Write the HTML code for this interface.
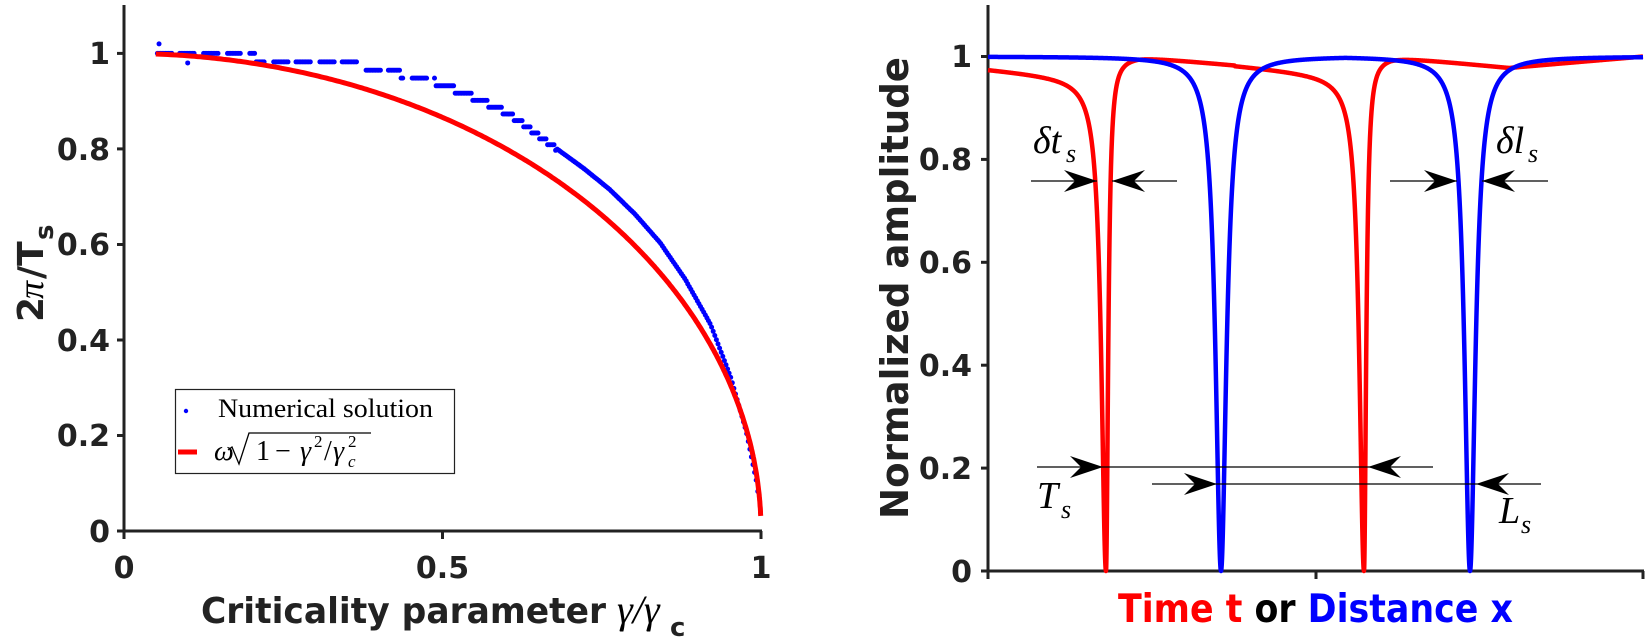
<!DOCTYPE html>
<html><head><meta charset="utf-8"><style>
html,body{margin:0;padding:0;background:#fff;}
svg{display:block;}
.tk{font-family:"DejaVu Sans",sans-serif;font-weight:bold;font-size:30px;fill:#222;}
.lb{font-family:"DejaVu Sans",sans-serif;font-weight:bold;fill:#222;}
.m{font-family:"Liberation Serif",serif;font-style:italic;fill:#000;}
</style></head><body>
<svg id="s" width="1649" height="643" viewBox="0 0 1649 643" xmlns="http://www.w3.org/2000/svg">
<g stroke="#222" stroke-width="3" fill="none">
<line x1="124" y1="5" x2="124" y2="532"/>
<line x1="123" y1="531" x2="762" y2="531"/>
<line x1="117" y1="53.4" x2="124" y2="53.4"/>
<line x1="117" y1="148.9" x2="124" y2="148.9"/>
<line x1="117" y1="244.5" x2="124" y2="244.5"/>
<line x1="117" y1="340" x2="124" y2="340"/>
<line x1="117" y1="435.5" x2="124" y2="435.5"/>
<line x1="117" y1="531" x2="124" y2="531"/>
<line x1="124" y1="531" x2="124" y2="539"/>
<line x1="442.5" y1="531" x2="442.5" y2="539"/>
<line x1="761" y1="531" x2="761" y2="539"/>
</g>
<g class="tk" text-anchor="end">
<text x="110" y="64">1</text>
<text x="110" y="160">0.8</text>
<text x="110" y="255">0.6</text>
<text x="110" y="351">0.4</text>
<text x="110" y="446">0.2</text>
<text x="110" y="542">0</text>
</g>
<g class="tk" text-anchor="middle">
<text x="124" y="578">0</text>
<text x="442.5" y="578">0.5</text>
<text x="761" y="578">1</text>
</g>
<text class="lb" font-size="36" x="201" y="623" textLength="405" lengthAdjust="spacingAndGlyphs">Criticality parameter</text>
<text class="m" font-size="40" x="617" y="623">γ/γ</text>
<text class="lb" font-size="26" x="670" y="636">c</text>
<g transform="translate(43,322) rotate(-90)">
<text class="lb" font-size="36" x="0" y="0">2</text>
<text class="m" font-size="36" x="23" y="0">π</text>
<text class="lb" font-size="36" x="43" y="0">/T</text>
<text class="lb" font-size="26" x="82" y="10">s</text>
</g>
<g id="lcurves"></g>
<rect x="175.5" y="389.5" width="279" height="84" fill="#fff" stroke="#222" stroke-width="1.2"/>
<circle cx="186" cy="411" r="2.2" fill="#00f"/>
<text x="218" y="417" font-family="Liberation Serif,serif" font-size="26" textLength="215" lengthAdjust="spacingAndGlyphs">Numerical solution</text>
<line x1="178" y1="452" x2="197" y2="452" stroke="#f00" stroke-width="5"/>
<text class="m" font-size="28" x="214" y="460">ω</text>
<path d="M228 450 L232 447 L239 464 L249 433 L371 433" stroke="#000" stroke-width="1.3" fill="none"/>
<text font-family="Liberation Serif,serif" font-size="28" x="256" y="460">1</text>
<text font-family="Liberation Serif,serif" font-size="28" x="275" y="460">−</text>
<text class="m" font-size="28" x="300" y="460">γ</text>
<text font-family="Liberation Serif,serif" font-size="17" x="314" y="447">2</text>
<text font-family="Liberation Serif,serif" font-size="28" x="324" y="460">/</text>
<text class="m" font-size="28" x="333" y="460">γ</text>
<text font-family="Liberation Serif,serif" font-size="17" x="348" y="447">2</text>
<text class="m" font-size="17" x="348" y="467">c</text>

<g stroke="#222" stroke-width="3" fill="none">
<line x1="988" y1="5" x2="988" y2="572"/>
<line x1="987" y1="571" x2="1644" y2="571"/>
<line x1="981" y1="56.5" x2="988" y2="56.5"/>
<line x1="981" y1="159.4" x2="988" y2="159.4"/>
<line x1="981" y1="262.3" x2="988" y2="262.3"/>
<line x1="981" y1="365.2" x2="988" y2="365.2"/>
<line x1="981" y1="468.1" x2="988" y2="468.1"/>
<line x1="981" y1="571" x2="988" y2="571"/>
<line x1="988" y1="571" x2="988" y2="579"/>
<line x1="1316" y1="571" x2="1316" y2="579"/>
<line x1="1643" y1="571" x2="1643" y2="579"/>
</g>
<g class="tk" text-anchor="end">
<text x="972" y="67">1</text>
<text x="972" y="170">0.8</text>
<text x="972" y="273">0.6</text>
<text x="972" y="376">0.4</text>
<text x="972" y="479">0.2</text>
<text x="972" y="582">0</text>
</g>
<text class="lb" font-size="38" transform="translate(908,519) rotate(-90)" textLength="462" lengthAdjust="spacingAndGlyphs">Normalized amplitude</text>
<text font-family="DejaVu Sans,sans-serif" font-weight="bold" font-size="39" x="1118" y="622" textLength="395" lengthAdjust="spacingAndGlyphs"><tspan fill="#f00">Time t </tspan><tspan fill="#000">or </tspan><tspan fill="#00f">Distance x</tspan></text>
<g id="rcurves"></g>
<g id="arrows" stroke="#000" stroke-width="1.3" fill="#000"></g>
<g class="m" font-size="38">
<text x="1033" y="153">δt</text><text x="1066" y="162" font-size="26">s</text>
<text x="1496" y="153">δl</text><text x="1528" y="162" font-size="26">s</text>
<text x="1037" y="508">T</text><text x="1061" y="518" font-size="26">s</text>
<text x="1499" y="523">L</text><text x="1521" y="533" font-size="26">s</text>
</g>
</svg>
<script>
var NS="http://www.w3.org/2000/svg";
function el(p,t,a){var e=document.createElementNS(NS,t);for(var k in a)e.setAttribute(k,a[k]);p.appendChild(e);return e;}
var L=document.getElementById('lcurves');
function lx(x){return 124+637*x;} function ly(v){return 531-477.6*v;}
var bp=[[310,130],[500,140],[700,160],[850,195],[930,235],[1000,275],[1050,320],[1100,365],[1150,410],[1200,460],[1250,520],[1300,590],[1350,680],[1400,790],[1440,920],[1470,1050],[1490,1170],[1500,1260]];
bp=bp.map(function(p){return [p[0]/1.97,p[1]/2.434];});
function bv(X){for(var i=0;i<bp.length-1;i++){if(X<=bp[i+1][0]){var t=(X-bp[i][0])/(bp[i+1][0]-bp[i][0]);return bp[i][1]+t*(bp[i+1][1]-bp[i][1]);}}return bp[bp.length-1][1];}
for(var x=0.05;x<=0.997;x+=0.0025){
 var X=lx(x);var Y=bv(X);var v=(531-Y)/477.6;
 var T=Math.round(55/v);var vq=55/T; if(v<0.8)vq=v;
 var gap=(x<0.5 && Math.sin(x*173)>0.55);
 if(gap) continue;
 el(L,'circle',{cx:X.toFixed(1),cy:ly(vq).toFixed(1),r:2.5,fill:'#00f'});
}
el(L,'circle',{cx:lx(0.055),cy:ly(1.02),r:2.5,fill:'#00f'});
el(L,'circle',{cx:lx(0.1),cy:ly(0.98),r:2.5,fill:'#00f'});
var d='';for(var i=0;i<=400;i++){var x=0.05+0.95*(1-Math.pow(1-i/400,2));if(x>0.9995)x=0.9995;var v=Math.sqrt(1-x*x);d+=(i?'L':'M')+lx(x).toFixed(1)+' '+ly(v).toFixed(1);}
el(L,'path',{d:d,stroke:'#f00','stroke-width':5,fill:'none'});
var R=document.getElementById('rcurves');
function ry(v){return 571-514.5*v;}
function redBase(X){
 if(X<1106)return 1-0.045*((X-1106+258)/258);
 if(X<1364){var t=(X-1138)/(1364-1138);return t<0?1:1-0.04*t;}
 if(X<1509){var t=(X-1391)/(1509-1391);return t<0?1:1-0.022*t;}
 return 0.978+0.022*(X-1509)/(1643-1509);
}
function dip(X,c,wl,wr){var dd=X-c;var w=dd<0?wl:wr;return 1-1/(1+(dd/w)*(dd/w));}
function red(X){var c=Math.abs(X-1106)<Math.abs(X-1364)?1106:1364;return redBase(X)*dip(X,c,5.5,2.6);}
function blue(X){var c=Math.abs(X-1221)<Math.abs(X-1470)?1221:1470;return dip(X,c,6.5,6.5);}
function curve(f,col,dips){var pts=[];for(var X=988;X<=1643;X+=0.5)pts.push(X);dips.forEach(function(c){pts.push(c);for(var k=-3;k<=3;k+=0.1)pts.push(c+k);});pts.sort(function(a,b){return a-b});var d='';pts.forEach(function(X,i){d+=(i?'L':'M')+X.toFixed(2)+' '+ry(f(X)).toFixed(2);});el(R,'path',{d:d,stroke:col,'stroke-width':4.5,fill:'none','stroke-linejoin':'round'});}
curve(red,'#f00',[1106,1364]);
curve(blue,'#00f',[1221,1470]);
var A=document.getElementById('arrows');
function line(x1,x2,y){el(A,'line',{x1:x1,y1:y,x2:x2,y2:y});}
function head(tx,y,dir){var s=dir;el(A,'path',{d:'M'+tx+' '+y+' L'+(tx-33*s)+' '+(y-11)+' L'+(tx-22*s)+' '+y+' L'+(tx-33*s)+' '+(y+11)+' Z',stroke:'none'});}
line(1031,1097,181);head(1097,181,1);line(1112,1177,181);head(1112,181,-1);
line(1390,1457,181);head(1457,181,1);line(1482,1548,181);head(1482,181,-1);
line(1037,1433,467);head(1103,467,1);head(1368,467,-1);
line(1152,1541,484);head(1217,484,1);head(1476,484,-1);
</script>
</body></html>
